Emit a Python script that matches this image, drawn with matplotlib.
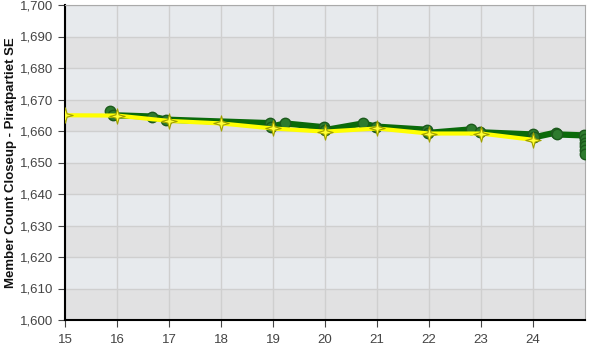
import numpy as np
from matplotlib import pyplot as plt
from matplotlib.path import Path
from matplotlib.ticker import FuncFormatter

plt.rcParams['font.family'] = ['Liberation Sans', 'DejaVu Sans']

# green series (members, detailed samples)
green_day = [15.87, 15.93, 16.67, 16.95, 18.94, 18.97, 19.23, 19.98, 20.0,
             20.73, 20.98, 21.96, 21.98, 22.8, 22.98, 24.0, 24.02, 24.44,
             24.47, 24.99, 25.0, 25.0, 25.0, 25.0, 25.0]
green_val = [1666.3, 1665.0, 1664.6, 1663.6, 1662.5, 1661.4, 1662.4, 1661.2, 1660.3,
             1662.4, 1661.4, 1660.4, 1659.4, 1660.5, 1659.6, 1658.9, 1658.0, 1659.5,
             1658.9, 1658.6, 1657.5, 1656.3, 1655.2, 1654.0, 1652.8]

# yellow series (daily)
yellow_day = [15, 16, 17, 18, 19, 20, 21, 22, 23, 24]
yellow_val = [1665.0, 1664.9, 1663.2, 1662.4, 1660.8, 1659.8, 1660.8, 1659.2, 1659.2, 1657.2]

yticks = list(range(1600, 1701, 10))
xticks = list(range(15, 25))

# four point star marker
pts = []
for k in range(8):
    a = np.pi / 2 + k * np.pi / 4
    r = 1.0 if k % 2 == 0 else 0.3
    pts.append((r * np.cos(a), r * np.sin(a)))
pts.append(pts[0])
star = Path(pts, [Path.MOVETO] + [Path.LINETO] * 7 + [Path.CLOSEPOLY])

fig = plt.figure(figsize=(6, 3.5), dpi=100)
ax = fig.add_axes([65 / 600, 30 / 350, 520 / 600, 315 / 350])

for i, lo in enumerate(yticks[:-1]):
    c = '#e1e1e2' if i % 2 == 0 else '#e7eaed'
    ax.axhspan(lo, lo + 10, color=c, lw=0, zorder=0)

ax.grid(True, color='#cfcfcf', lw=1, zorder=1)

ax.plot(green_day, green_val, color='#0a6a0a', lw=4.5, zorder=3,
        marker='o', ms=7.5, mfc='#2e7b2e', mec='#1c5a1c', mew=1)
ax.plot(yellow_day, yellow_val, color='#ffff00', lw=3, zorder=4,
        marker=star, ms=11, mfc='#ffff33', mec='#a0a000', mew=0.8)

ax.set_xlim(15, 25)
ax.set_ylim(1600, 1700)
ax.set_xticks(xticks)
ax.set_yticks(yticks)
ax.yaxis.set_major_formatter(FuncFormatter(lambda v, p: f'{int(v):,}'))
ax.tick_params(labelsize=9.5, colors='#444444', length=5, direction='out')
ax.tick_params(axis='x', pad=5)
ax.set_ylabel('Member Count Closeup - Piratpartiet SE', fontsize=9.5,
              fontweight='bold', color='#111111')
ax.yaxis.set_label_coords(-0.092, 0.5)

for s in ['top', 'right']:
    ax.spines[s].set_color('#aaaaaa')
for s in ['left', 'bottom']:
    ax.spines[s].set_color('#000000')
    ax.spines[s].set_linewidth(1.5)
ax.set_axisbelow(True)

fig.savefig('out.png', dpi=100)
